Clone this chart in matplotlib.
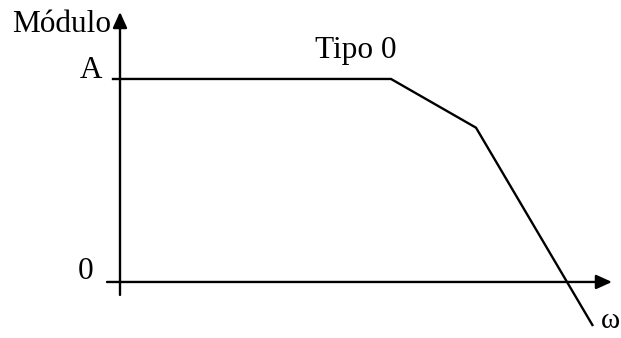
import matplotlib
matplotlib.use("Agg")
import matplotlib.pyplot as plt

# Data (asymptotic magnitude plot, "Tipo 0")
omega = [0.0, 2.71, 3.56, 4.73]
modulo = [1.0, 1.0, 0.76, -0.217]
y_tick_labels = ["0", "A"]
y_tick_values = [0.0, 1.0]

plt.rcParams['font.family'] = ['Liberation Serif', 'DejaVu Serif']

W, H = 621, 338
fig = plt.figure(figsize=(W / 100, H / 100), dpi=100)
ax = fig.add_axes([0, 0, 1, 1])
ax.set_xlim(-1.20, 5.01)
ax.set_ylim(-0.276, 1.389)
ax.axis('off')

lw = 1.7
# curve
ax.plot(omega, modulo, color='black', lw=lw, solid_capstyle='butt')

# axes arrows
arrow_style = dict(arrowstyle='-|>,head_length=9.5,head_width=4.3', lw=lw,
                   color='black', shrinkA=0, shrinkB=0, mutation_scale=1)
ax.annotate('', xy=(0, 1.33), xytext=(0, -0.064), arrowprops=arrow_style)
ax.annotate('', xy=(4.92, 0), xytext=(-0.13, 0), arrowprops=arrow_style)

# tick at A
ax.plot([-0.07, 0], [1.0, 1.0], color='black', lw=lw)

fs = 22.5
ax.text(-0.18, y_tick_values[1] + 0.005, y_tick_labels[1], ha='right', va='baseline', fontsize=fs)
ax.text(-0.27, y_tick_values[0] + 0.015, y_tick_labels[0], ha='right', va='baseline', fontsize=fs)
ax.text(-1.08, 1.232, 'Módulo', ha='left', va='baseline', fontsize=fs)
ax.text(1.95, 1.103, 'Tipo 0', ha='left', va='baseline', fontsize=fs)
ax.text(4.995, -0.227, 'ω', ha='right', va='baseline', fontsize=21)

fig.savefig('out.png', dpi=100)
